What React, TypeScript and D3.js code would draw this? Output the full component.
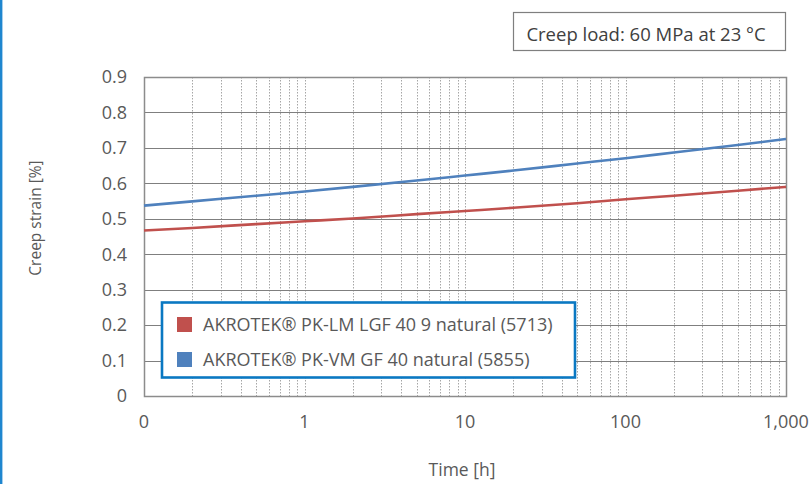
import React from "react";
import * as d3 from "d3";

const times = [0.1, 0.2, 0.5, 1, 2, 5, 10, 20, 50, 100, 200, 500, 1000];
const seriesNames = [
  "AKROTEK® PK-LM LGF 40 9 natural (5713)",
  "AKROTEK® PK-VM GF 40 natural (5855)",
];
const redValues = [0.467, 0.474, 0.485, 0.493, 0.501, 0.513, 0.522, 0.531, 0.544, 0.555, 0.565, 0.579, 0.59];
const blueValues = [0.537, 0.549, 0.565, 0.577, 0.59, 0.608, 0.622, 0.636, 0.656, 0.671, 0.687, 0.708, 0.725];
const yTicks = [0, 0.1, 0.2, 0.3, 0.4, 0.5, 0.6, 0.7, 0.8, 0.9];
const xTicks = [0.1, 1, 10, 100, 1000];
const xTickLabels = ["0", "1", "10", "100", "1,000"];
const title = "Creep load: 60 MPa at 23 °C";
const xTitle = "Time [h]";
const yTitle = "Creep strain [%]";

const W = 812;
const H = 484;
const L = 144;
const R = 786;
const T = 77;
const B = 396;
const FONT = "'Open Sans', sans-serif";
const TXT = "#595959";

export default function App() {
  const x = d3.scaleLog().domain([0.1, 1000]).range([L, R]);
  const y = d3.scaleLinear().domain([0, 0.9]).range([B, T]);
  const line = d3
    .line<[number, number]>()
    .x((d) => x(d[0]))
    .y((d) => y(d[1]))
    .curve(d3.curveMonotoneX);

  const minor: number[] = [];
  [0.1, 1, 10, 100].forEach((dec) => {
    for (let k = 2; k <= 10; k++) minor.push(dec * k);
  });

  const series = [
    { name: seriesNames[0], values: redValues, color: "#C0504D" },
    { name: seriesNames[1], values: blueValues, color: "#4F81BD" },
  ];

  return (
    <svg
      width={W}
      height={H}
      style={{ position: "absolute", left: 0, top: 0, background: "#fff" }}
      fontFamily={FONT}
    >
      <rect x={0} y={0} width={W} height={H} fill="#fff" />
      <line x1={1.2} x2={1.2} y1={0} y2={H} stroke="#1F86CF" strokeWidth={2.4} />

      {/* vertical dotted grid */}
      {minor.map((v, i) => (
        <line
          key={"v" + i}
          x1={Math.round(x(v)) + 0.5}
          x2={Math.round(x(v)) + 0.5}
          y1={T}
          y2={B}
          stroke="#a6a6a6"
          strokeWidth={1}
          strokeDasharray="1.5 1.5"
        />
      ))}

      {/* horizontal grid */}
      {yTicks.map((v, i) => (
        <line
          key={"h" + i}
          x1={L}
          x2={R}
          y1={Math.round(y(v)) + 0.5}
          y2={Math.round(y(v)) + 0.5}
          stroke="#7f7f7f"
          strokeWidth={1.2}
        />
      ))}
      <rect x={L + 0.5} y={T + 0.5} width={R - L} height={B - T} fill="none" stroke="#8c8c8c" strokeWidth={1.5} />

      {/* y tick labels */}
      {yTicks.map((v, i) => (
        <text
          key={"yt" + i}
          x={127}
          y={y(v)}
          dy="0.35em"
          textAnchor="end"
          fontSize={18}
          fill={TXT}
        >
          {d3.format("~g")(v)}
        </text>
      ))}

      {/* x tick labels */}
      {xTicks.map((v, i) => (
        <text
          key={"xt" + i}
          x={x(v)}
          y={422}
          dy="0.35em"
          textAnchor="middle"
          fontSize={18}
          fill={TXT}
        >
          {xTickLabels[i]}
        </text>
      ))}

      {/* series lines */}
      {series.map((s, i) => (
        <path
          key={"s" + i}
          d={line(times.map((t, j) => [t, s.values[j]]) as [number, number][]) || ""}
          fill="none"
          stroke={s.color}
          strokeWidth={2.6}
        />
      ))}

      {/* legend */}
      <rect x={162} y={302.5} width={413} height={75} fill="#fff" stroke="#0A78C2" strokeWidth={2.6} />
      {series.map((s, i) => (
        <g key={"lg" + i}>
          <rect x={177} y={317 + i * 35} width={15} height={15} fill={s.color} />
          <text x={203} y={324.5 + i * 35} dy="0.35em" fontSize={18} fill={TXT}>
            {s.name}
          </text>
        </g>
      ))}

      {/* title box */}
      <rect x={513.5} y={12.5} width={272} height={38} fill="#fff" stroke="#7f7f7f" strokeWidth={1.2} />
      <text x={646} y={35} dy="0.35em" textAnchor="middle" fontSize={18.5} fill="#404040">
        {title}
      </text>

      {/* axis titles */}
      <text x={462} y={470} dy="0.35em" textAnchor="middle" fontSize={17.5} fill={TXT}>
        {xTitle}
      </text>
      <text
        transform={`translate(36,218) rotate(-90)`}
        dy="0.35em"
        textAnchor="middle"
        fontSize={15.5}
        fill={TXT}
      >
        {yTitle}
      </text>
    </svg>
  );
}
